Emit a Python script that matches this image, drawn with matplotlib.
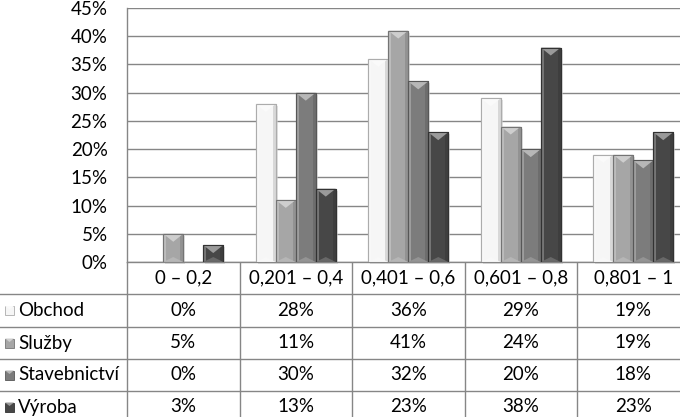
import numpy as np
import matplotlib
matplotlib.use('Agg')
import matplotlib.pyplot as plt
from matplotlib.patches import Polygon, Rectangle
from matplotlib.colors import to_rgb

categories = ['0 – 0,2', '0,201 – 0,4', '0,401 – 0,6', '0,601 – 0,8', '0,801 – 1']
series = ['Obchod', 'Služby', 'Stavebnictví', 'Výroba']
obchod = [0, 28, 36, 29, 19]
sluzby = [5, 11, 41, 24, 19]
stavebnictvi = [0, 30, 32, 20, 18]
vyroba = [3, 13, 23, 38, 23]
values = [obchod, sluzby, stavebnictvi, vyroba]
colors = ['#f6f6f6', '#a6a6a6', '#7c7c7c', '#474747']
yticks = [0, 5, 10, 15, 20, 25, 30, 35, 40, 45]

plt.rcParams['font.family'] = ['Lato', 'DejaVu Sans']
FS = 13.5
W, H = 680, 417
fig = plt.figure(figsize=(W / 100, H / 100), dpi=100)

grid_c = '#868686'
cat_px = 112.5
left_px, top_px, zero_px = 127, 8, 262
ax = fig.add_axes([left_px / W, (H - zero_px) / H, 5 * cat_px / W, (zero_px - top_px) / H])
ax.set_xlim(-0.5, 4.5)
ax.set_ylim(0, 45)
ax.set_yticks(yticks)
ax.set_yticklabels([f'{v}%' for v in yticks], fontsize=FS)
ax.set_xticks([])
ax.tick_params(axis='y', length=0, pad=14)
ax.yaxis.grid(True, color=grid_c, linewidth=1)
ax.set_axisbelow(True)
for s in ['top', 'right']:
    ax.spines[s].set_visible(False)
for s in ['left', 'bottom']:
    ax.spines[s].set_color(grid_c)
    ax.spines[s].set_linewidth(1)

px_x = 1 / cat_px
px_y = 45 / (zero_px - top_px)


def blend(c, t, amt):
    c = np.array(to_rgb(c)); t = np.array(to_rgb(t))
    return tuple(c + (t - c) * amt)


bw = 20 / cat_px
x = np.arange(len(categories))
for i, (vals, col) in enumerate(zip(values, colors)):
    bars = ax.bar(x + (i - 1.5) * bw, vals, bw, color=col,
                  edgecolor=blend(col, 'black', 0.25), linewidth=0.8, zorder=3)
    for b in bars:
        h = b.get_height()
        if h <= 0:
            continue
        x0, x1 = b.get_x(), b.get_x() + b.get_width()
        xm = (x0 + x1) / 2
        # soft shadow
        ax.add_patch(Rectangle((x0 + 2 * px_x, -2 * px_y), x1 - x0, h, color='#cfcfcf',
                               alpha=0.6, zorder=2, clip_on=False, linewidth=0))
        # side bevels
        ax.add_patch(Rectangle((x0, 0), 3 * px_x, h, color=blend(col, 'white', 0.25),
                               zorder=4, linewidth=0))
        ax.add_patch(Rectangle((x1 - 3 * px_x, 0), 3 * px_x, h, color=blend(col, 'black', 0.12),
                               zorder=4, linewidth=0))
        # top and bottom bevel triangles
        th = min(8 * px_y, h / 2)
        ax.add_patch(Polygon([(x0, h), (x1, h), (xm, h - th)], closed=True,
                             color=blend(col, 'white', 0.45), zorder=4, linewidth=0))
        bh = min(5 * px_y, h / 3)
        ax.add_patch(Polygon([(x0, 0), (x1, 0), (xm, bh)], closed=True,
                             color=blend(col, 'white', 0.18), zorder=4, linewidth=0))
        ax.add_patch(Rectangle((x0, 0), x1 - x0, h, fill=False,
                               edgecolor=blend(col, 'black', 0.3), linewidth=0.8, zorder=5))

# data table below the plot, sharing the category positions
tab = fig.add_axes([0, 0, (left_px + 5 * cat_px) / W, (H - zero_px) / H])
tab.set_xlim(-0.5 - left_px / cat_px, 4.5)
tab.set_ylim(H - zero_px, 0)
tab.axis('off')
row_edges = [0, 32, 65, 97, 129, 161]
for k in range(len(categories) + 1):
    tab.plot([k - 0.5, k - 0.5], [0, H], color=grid_c, lw=1)
for r in row_edges[1:]:
    tab.plot([-0.5 - left_px / cat_px, 4.5], [r, r], color=grid_c, lw=1)
for j, c in enumerate(categories):
    tab.text(j, (row_edges[0] + row_edges[1]) / 2, c, ha='center', va='center', fontsize=FS)
for i, (name, vals, col) in enumerate(zip(series, values, colors)):
    yc = (row_edges[i + 1] + row_edges[i + 2]) / 2
    kx = -0.5 - left_px / cat_px + 5 * px_x
    tab.add_patch(Rectangle((kx, yc - 4.5), 9 * px_x, 9, facecolor=col,
                            edgecolor=blend(col, 'black', 0.3), lw=0.6))
    tab.add_patch(Polygon([(kx, yc - 4.5), (kx + 9 * px_x, yc - 4.5), (kx + 4.5 * px_x, yc - 1)],
                          closed=True, color=blend(col, 'white', 0.45), lw=0))
    tab.text(kx + 13 * px_x, yc, name, ha='left', va='center', fontsize=FS)
    for j, v in enumerate(vals):
        tab.text(j, yc, f'{v}%', ha='center', va='center', fontsize=FS)

fig.savefig('out.png', dpi=100)
